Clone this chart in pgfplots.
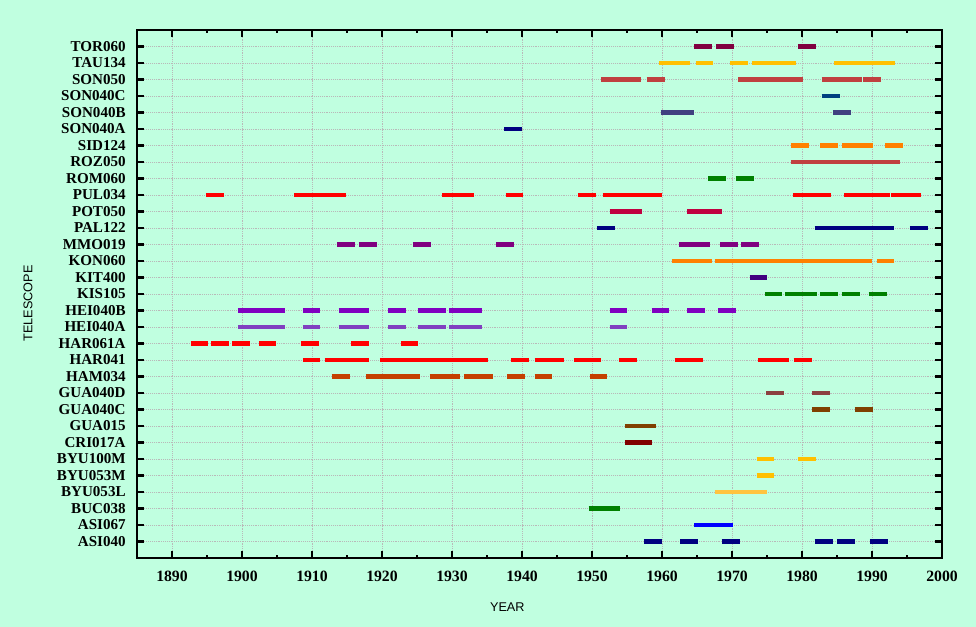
\documentclass[border=0pt]{standalone}
\usepackage{pgfplots}
\pgfplotsset{compat=1.18}
\usepackage{fontspec}
\setmainfont{Liberation Serif}
\newfontfamily\sansf{Liberation Sans}
\definecolor{bgmint}{RGB}{192,255,224}
\definecolor{cnavy}{RGB}{0,0,128}
\definecolor{cblue}{RGB}{0,0,255}
\definecolor{cgreen}{RGB}{0,128,0}
\definecolor{cgold}{RGB}{255,192,0}
\definecolor{clgold}{RGB}{255,196,64}
\definecolor{cdred}{RGB}{128,0,0}
\definecolor{cbrown}{RGB}{128,64,0}
\definecolor{crosy}{RGB}{140,64,64}
\definecolor{crust}{RGB}{196,64,0}
\definecolor{cred}{RGB}{255,0,0}
\definecolor{cviolA}{RGB}{128,64,192}
\definecolor{cviolB}{RGB}{128,0,192}
\definecolor{cindigo}{RGB}{64,0,128}
\definecolor{corange}{RGB}{255,128,0}
\definecolor{cpurple}{RGB}{128,0,128}
\definecolor{ccrimson}{RGB}{192,0,64}
\definecolor{cbrick}{RGB}{192,64,64}
\definecolor{cslate}{RGB}{64,64,128}
\definecolor{csteel}{RGB}{0,64,128}
\definecolor{cmaroon}{RGB}{128,0,64}
\begin{document}
\begin{tikzpicture}[x=1pt,y=1pt]
\fill[bgmint] (-102.75,-51.75) rectangle (629.25,418.5);
\begin{axis}[at={(0,0)}, anchor=south west, scale only axis,
 width=603.75pt, height=396pt,
 xmin=1885, xmax=2000, ymin=-1, ymax=31,
 xtick={1890,1900,...,2000}, minor x tick num=1,
 ytick={0,...,30},
 yticklabels={ASI040,ASI067,BUC038,BYU053L,BYU053M,BYU100M,CRI017A,GUA015,GUA040C,GUA040D,HAM034,HAR041,HAR061A,HEI040A,HEI040B,KIS105,KIT400,KON060,MMO019,PAL122,POT050,PUL034,ROM060,ROZ050,SID124,SON040A,SON040B,SON040C,SON050,TAU134,TOR060},
 tick align=inside, major tick length=5pt, minor tick length=2.5pt,
 every tick/.style={black, line width=1.6pt},
 axis line style={line width=2pt},
 grid=major, major grid style={densely dotted, gray!55, line width=0.7pt},
 unbounded coords=jump,
 /pgf/number format/.cd, 1000 sep={}, assume math mode=true, /pgfplots/.cd,
 yticklabel style={font=\bfseries\fontsize{11.3}{12}\selectfont, xshift=-5pt},
 xticklabel style={font=\bfseries\fontsize{11.8}{12}\selectfont, yshift=-6pt},
 xlabel={YEAR}, ylabel={TELESCOPE},
 label style={font=\sansf\fontsize{9.5}{11}\selectfont},
 xlabel style={at={(axis description cs:0.46,-0.0928)}, anchor=center},
 ylabel style={at={(axis description cs:-0.1354,0.482)}, anchor=center},
 every axis plot/.append style={line width=3.3pt, line cap=butt},
]
% 0 ASI040
\addplot[cnavy] coordinates {(1957.4,0)(1960.0,0)(nan,0)(1962.6,0)(1965.1,0)(nan,0)(1968.5,0)(1971.1,0)(nan,0)(1981.8,0)(1984.4,0)(nan,0)(1985.0,0)(1987.5,0)(nan,0)(1989.7,0)(1992.3,0)};
% 1 ASI067
\addplot[cblue] coordinates {(1964.6,1)(1970.1,1)};
% 2 BUC038
\addplot[cgreen] coordinates {(1949.5,2)(1954.0,2)};
% 3 BYU053L
\addplot[clgold] coordinates {(1967.5,3)(1975.0,3)};
% 4 BYU053M
\addplot[cgold] coordinates {(1973.5,4)(1976.0,4)};
% 5 BYU100M
\addplot[cgold] coordinates {(1973.5,5)(1976.0,5)(nan,5)(1979.4,5)(1982.0,5)};
% 6 CRI017A
\addplot[cdred] coordinates {(1954.7,6)(1958.6,6)};
% 7 GUA015
\addplot[cbrown] coordinates {(1954.7,7)(1959.2,7)};
% 8 GUA040C
\addplot[cbrown] coordinates {(1981.4,8)(1984.0,8)(nan,8)(1987.5,8)(1990.1,8)};
% 9 GUA040D
\addplot[crosy] coordinates {(1974.9,9)(1977.4,9)(nan,9)(1981.4,9)(1984.0,9)};
% 10 HAM034
\addplot[crust] coordinates {(1912.8,10)(1915.4,10)(nan,10)(1917.7,10)(1925.4,10)(nan,10)(1926.8,10)(1931.1,10)(nan,10)(1931.7,10)(1935.8,10)(nan,10)(1937.9,10)(1940.4,10)(nan,10)(1941.8,10)(1944.3,10)(nan,10)(1949.7,10)(1952.2,10)};
% 11 HAR041
\addplot[cred] coordinates {(1908.7,11)(1911.2,11)(nan,11)(1911.8,11)(1918.1,11)(nan,11)(1919.7,11)(1935.1,11)(nan,11)(1938.5,11)(1941.0,11)(nan,11)(1941.8,11)(1946.0,11)(nan,11)(1947.4,11)(1951.3,11)(nan,11)(1953.9,11)(1956.4,11)(nan,11)(1961.8,11)(1965.9,11)(nan,11)(1973.7,11)(1978.2,11)(nan,11)(1978.8,11)(1981.4,11)};
% 12 HAR061A
\addplot[cred] coordinates {(1892.7,12)(1895.2,12)(nan,12)(1895.6,12)(1898.2,12)(nan,12)(1898.6,12)(1901.1,12)(nan,12)(1902.4,12)(1904.9,12)(nan,12)(1908.4,12)(1911.0,12)(nan,12)(1915.6,12)(1918.1,12)(nan,12)(1922.7,12)(1925.2,12)};
% 13 HEI040A
\addplot[cviolA] coordinates {(1899.4,13)(1906.2,13)(nan,13)(1908.7,13)(1911.2,13)(nan,13)(1913.8,13)(1918.1,13)(nan,13)(1920.9,13)(1923.4,13)(nan,13)(1925.1,13)(1929.1,13)(nan,13)(1929.6,13)(1934.3,13)(nan,13)(1952.5,13)(1955.0,13)};
% 14 HEI040B
\addplot[cviolB] coordinates {(1899.4,14)(1906.2,14)(nan,14)(1908.7,14)(1911.2,14)(nan,14)(1913.8,14)(1918.1,14)(nan,14)(1920.9,14)(1923.4,14)(nan,14)(1925.1,14)(1929.1,14)(nan,14)(1929.6,14)(1934.3,14)(nan,14)(1952.5,14)(1955.0,14)(nan,14)(1958.5,14)(1961.0,14)(nan,14)(1963.6,14)(1966.1,14)(nan,14)(1968.0,14)(1970.5,14)};
% 15 KIS105
\addplot[cgreen] coordinates {(1974.7,15)(1977.2,15)(nan,15)(1977.6,15)(1982.1,15)(nan,15)(1982.6,15)(1985.1,15)(nan,15)(1985.7,15)(1988.3,15)(nan,15)(1989.5,15)(1992.1,15)};
% 16 KIT400
\addplot[cindigo] coordinates {(1972.5,16)(1975.0,16)};
% 17 KON060
\addplot[corange] coordinates {(1961.4,17)(1967.1,17)(nan,17)(1967.5,17)(1990.0,17)(nan,17)(1990.7,17)(1993.2,17)};
% 18 MMO019
\addplot[cpurple] coordinates {(1913.6,18)(1916.2,18)(nan,18)(1916.7,18)(1919.3,18)(nan,18)(1924.4,18)(1927.0,18)(nan,18)(1936.3,18)(1938.8,18)(nan,18)(1962.4,18)(1966.9,18)(nan,18)(1968.3,18)(1970.9,18)(nan,18)(1971.3,18)(1973.9,18)};
% 19 PAL122
\addplot[cnavy] coordinates {(1950.7,19)(1953.3,19)(nan,19)(1981.8,19)(1993.2,19)(nan,19)(1995.4,19)(1998.0,19)};
% 20 POT050
\addplot[ccrimson] coordinates {(1952.5,20)(1957.2,20)(nan,20)(1963.6,20)(1968.5,20)};
% 21 PUL034
\addplot[cred] coordinates {(1894.9,21)(1897.4,21)(nan,21)(1907.5,21)(1914.9,21)(nan,21)(1928.6,21)(1933.1,21)(nan,21)(1937.7,21)(1940.2,21)(nan,21)(1948.0,21)(1950.5,21)(nan,21)(1951.5,21)(1960.0,21)(nan,21)(1978.7,21)(1984.2,21)(nan,21)(1986.0,21)(1992.5,21)(nan,21)(1992.7,21)(1997.0,21)};
% 22 ROM060
\addplot[cgreen] coordinates {(1966.6,22)(1969.1,22)(nan,22)(1970.5,22)(1973.1,22)};
% 23 ROZ050
\addplot[cbrick] coordinates {(1978.4,23)(1994.0,23)};
% 24 SID124
\addplot[corange] coordinates {(1978.4,24)(1981.0,24)(nan,24)(1982.6,24)(1985.1,24)(nan,24)(1985.7,24)(1990.1,24)(nan,24)(1991.9,24)(1994.4,24)};
% 25 SON040A
\addplot[cnavy] coordinates {(1937.5,25)(1940.0,25)};
% 26 SON040B
\addplot[cslate] coordinates {(1959.8,26)(1964.6,26)(nan,26)(1984.4,26)(1987.0,26)};
% 27 SON040C
\addplot[csteel] coordinates {(1982.8,27)(1985.4,27)};
% 28 SON050
\addplot[cbrick] coordinates {(1951.3,28)(1957.0,28)(nan,28)(1957.8,28)(1960.4,28)(nan,28)(1970.9,28)(1980.2,28)(nan,28)(1982.8,28)(1988.5,28)(nan,28)(1988.7,28)(1991.3,28)};
% 29 TAU134
\addplot[cgold] coordinates {(1959.6,29)(1964.0,29)(nan,29)(1964.8,29)(1967.3,29)(nan,29)(1969.7,29)(1972.3,29)(nan,29)(1972.9,29)(1979.2,29)(nan,29)(1984.6,29)(1993.3,29)};
% 30 TOR060
\addplot[cmaroon] coordinates {(1964.6,30)(1967.1,30)(nan,30)(1967.7,30)(1970.3,30)(nan,30)(1979.4,30)(1982.0,30)};
\end{axis}
\end{tikzpicture}
\end{document}
